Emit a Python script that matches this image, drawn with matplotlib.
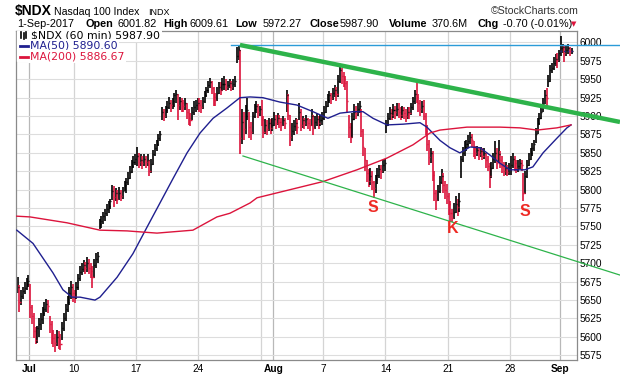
import matplotlib
matplotlib.use("Agg")
import matplotlib.pyplot as plt
from matplotlib.lines import Line2D
import numpy as np

# hourly bars, one list per trading day (Jun 30 .. Sep 1, Jul 3 is a half day)
days = ["Jun30", "Jul3", "Jul5", "Jul6", "Jul7",
        "Jul10", "Jul11", "Jul12", "Jul13", "Jul14",
        "Jul17", "Jul18", "Jul19", "Jul20", "Jul21",
        "Jul24", "Jul25", "Jul26", "Jul27", "Jul28",
        "Jul31", "Aug1", "Aug2", "Aug3", "Aug4",
        "Aug7", "Aug8", "Aug9", "Aug10", "Aug11",
        "Aug14", "Aug15", "Aug16", "Aug17", "Aug18",
        "Aug21", "Aug22", "Aug23", "Aug24", "Aug25",
        "Aug28", "Aug29", "Aug30", "Aug31", "Sep1"]

closes = [
    [5668, 5648, 5655, 5662, 5666, 5672, 5676],
    [5640, 5628, 5608, 5596],
    [5612, 5618, 5624, 5632, 5638, 5645, 5642],
    [5618, 5605, 5598, 5592, 5600, 5596, 5590],
    [5612, 5625, 5638, 5648, 5660, 5668, 5660],
    [5655, 5668, 5680, 5688, 5692, 5698, 5694],
    [5700, 5694, 5690, 5682, 5698, 5706, 5710],
    [5754, 5758, 5764, 5768, 5774, 5778, 5784],
    [5798, 5790, 5795, 5788, 5796, 5792, 5798],
    [5806, 5810, 5816, 5824, 5832, 5838, 5842],
    [5846, 5838, 5840, 5836, 5842, 5838, 5840],
    [5826, 5835, 5848, 5856, 5862, 5870, 5876],
    [5905, 5900, 5908, 5912, 5918, 5915, 5920],
    [5928, 5930, 5915, 5920, 5918, 5914, 5918],
    [5906, 5898, 5895, 5905, 5912, 5915, 5918],
    [5915, 5912, 5920, 5928, 5935, 5942, 5946],
    [5938, 5926, 5922, 5932, 5940, 5936, 5944],
    [5944, 5940, 5942, 5945, 5940, 5944, 5948],
    [5982, 5990, 5870, 5892, 5882, 5900, 5908],
    [5885, 5878, 5900, 5910, 5914, 5906, 5910],
    [5895, 5878, 5888, 5882, 5890, 5884, 5888],
    [5896, 5890, 5898, 5892, 5888, 5894, 5890],
    [5928, 5902, 5872, 5880, 5886, 5890, 5885],
    [5905, 5888, 5894, 5890, 5896, 5890, 5888],
    [5900, 5884, 5892, 5896, 5890, 5895, 5898],
    [5906, 5914, 5922, 5928, 5924, 5932, 5936],
    [5930, 5948, 5962, 5955, 5950, 5945, 5920],
    [5885, 5872, 5896, 5906, 5904, 5910, 5914],
    [5880, 5858, 5840, 5822, 5812, 5818, 5810],
    [5802, 5815, 5820, 5828, 5825, 5834, 5836],
    [5888, 5898, 5904, 5902, 5908, 5905, 5910],
    [5906, 5902, 5908, 5904, 5900, 5906, 5904],
    [5912, 5920, 5930, 5926, 5918, 5910, 5914],
    [5900, 5880, 5862, 5845, 5850, 5820, 5795],
    [5786, 5798, 5810, 5818, 5806, 5800, 5792],
    [5780, 5768, 5762, 5770, 5780, 5776, 5784],
    [5842, 5850, 5858, 5862, 5866, 5872, 5868],
    [5856, 5850, 5854, 5848, 5852, 5846, 5850],
    [5840, 5832, 5818, 5830, 5842, 5850, 5836],
    [5848, 5840, 5832, 5826, 5830, 5824, 5828],
    [5834, 5842, 5836, 5830, 5832, 5836, 5834],
    [5796, 5818, 5834, 5842, 5850, 5856, 5862],
    [5876, 5890, 5898, 5906, 5916, 5928, 5924],
    [5948, 5962, 5966, 5972, 5978, 5976, 5986],
    [5992, 5994, 5986, 5990, 5992, 5988, 5988],
]

highs = [
    [5681, 5670, 5664, 5668, 5674, 5680, 5684],
    [5672, 5644, 5632, 5614],
    [5615, 5625, 5632, 5640, 5648, 5652, 5650],
    [5628, 5622, 5610, 5604, 5610, 5608, 5604],
    [5620, 5632, 5645, 5656, 5668, 5676, 5672],
    [5664, 5674, 5686, 5696, 5700, 5704, 5702],
    [5708, 5706, 5700, 5696, 5706, 5714, 5716],
    [5760, 5764, 5770, 5774, 5780, 5784, 5788],
    [5806, 5805, 5802, 5800, 5804, 5800, 5804],
    [5812, 5816, 5824, 5832, 5840, 5846, 5848],
    [5858, 5850, 5848, 5846, 5848, 5846, 5848],
    [5840, 5842, 5854, 5862, 5868, 5876, 5880],
    [5912, 5910, 5914, 5920, 5926, 5922, 5925],
    [5932, 5936, 5930, 5926, 5924, 5922, 5924],
    [5918, 5910, 5904, 5912, 5920, 5922, 5925],
    [5924, 5922, 5926, 5934, 5940, 5948, 5952],
    [5948, 5940, 5932, 5940, 5946, 5946, 5952],
    [5955, 5950, 5948, 5950, 5948, 5950, 5954],
    [5994, 5997, 5990, 5910, 5905, 5915, 5925],
    [5905, 5892, 5906, 5916, 5920, 5916, 5914],
    [5922, 5900, 5896, 5894, 5898, 5896, 5898],
    [5906, 5902, 5904, 5902, 5898, 5900, 5898],
    [5936, 5930, 5902, 5890, 5894, 5898, 5896],
    [5918, 5910, 5900, 5898, 5902, 5898, 5896],
    [5910, 5902, 5900, 5904, 5900, 5902, 5906],
    [5914, 5920, 5930, 5934, 5932, 5938, 5942],
    [5940, 5956, 5968, 5966, 5960, 5955, 5948],
    [5902, 5890, 5904, 5916, 5914, 5918, 5920],
    [5910, 5882, 5856, 5840, 5828, 5830, 5826],
    [5812, 5820, 5830, 5834, 5834, 5840, 5842],
    [5895, 5904, 5912, 5910, 5916, 5914, 5918],
    [5918, 5912, 5914, 5912, 5910, 5912, 5912],
    [5918, 5926, 5936, 5947, 5930, 5922, 5920],
    [5922, 5904, 5888, 5868, 5856, 5852, 5826],
    [5800, 5806, 5818, 5828, 5822, 5812, 5808],
    [5795, 5784, 5774, 5782, 5792, 5788, 5795],
    [5846, 5858, 5866, 5868, 5874, 5878, 5876],
    [5866, 5860, 5860, 5858, 5858, 5856, 5856],
    [5850, 5846, 5836, 5838, 5850, 5866, 5856],
    [5868, 5852, 5846, 5838, 5838, 5834, 5836],
    [5846, 5850, 5846, 5840, 5840, 5842, 5840],
    [5822, 5826, 5840, 5850, 5856, 5864, 5868],
    [5884, 5898, 5904, 5914, 5924, 5935, 5938],
    [5956, 5970, 5972, 5980, 5984, 5986, 5990],
    [6009, 5998, 5996, 5996, 5998, 5994, 5992],
]

lows = [
    [5660, 5634, 5644, 5652, 5658, 5664, 5668],
    [5626, 5618, 5598, 5590],
    [5592, 5600, 5610, 5618, 5628, 5634, 5632],
    [5605, 5590, 5586, 5580, 5588, 5584, 5582],
    [5596, 5608, 5622, 5634, 5644, 5652, 5648],
    [5646, 5652, 5664, 5676, 5684, 5688, 5686],
    [5688, 5686, 5680, 5666, 5680, 5694, 5700],
    [5746, 5748, 5754, 5758, 5764, 5768, 5774],
    [5786, 5776, 5784, 5780, 5786, 5784, 5788],
    [5798, 5796, 5806, 5814, 5822, 5830, 5834],
    [5832, 5830, 5832, 5828, 5832, 5830, 5832],
    [5818, 5822, 5834, 5846, 5852, 5860, 5866],
    [5895, 5893, 5898, 5904, 5910, 5906, 5910],
    [5912, 5918, 5895, 5908, 5906, 5906, 5908],
    [5896, 5888, 5886, 5894, 5902, 5906, 5908],
    [5906, 5904, 5910, 5918, 5926, 5932, 5938],
    [5930, 5914, 5914, 5920, 5930, 5928, 5934],
    [5936, 5934, 5936, 5938, 5934, 5936, 5940],
    [5972, 5976, 5848, 5862, 5868, 5876, 5895],
    [5870, 5868, 5876, 5898, 5904, 5898, 5900],
    [5886, 5870, 5876, 5874, 5880, 5876, 5880],
    [5886, 5882, 5888, 5884, 5880, 5886, 5882],
    [5905, 5895, 5860, 5866, 5874, 5880, 5876],
    [5894, 5880, 5884, 5882, 5886, 5882, 5880],
    [5886, 5874, 5882, 5886, 5882, 5886, 5888],
    [5895, 5904, 5912, 5918, 5916, 5922, 5926],
    [5920, 5926, 5945, 5944, 5940, 5936, 5904],
    [5870, 5864, 5870, 5894, 5896, 5900, 5904],
    [5872, 5846, 5826, 5810, 5804, 5806, 5800],
    [5789, 5796, 5808, 5816, 5814, 5822, 5826],
    [5877, 5886, 5894, 5894, 5898, 5896, 5900],
    [5898, 5894, 5898, 5896, 5892, 5896, 5896],
    [5902, 5908, 5916, 5918, 5906, 5900, 5904],
    [5895, 5874, 5852, 5834, 5836, 5812, 5784],
    [5772, 5784, 5796, 5808, 5796, 5788, 5780],
    [5766, 5758, 5756, 5760, 5768, 5764, 5770],
    [5816, 5838, 5846, 5852, 5856, 5862, 5858],
    [5844, 5842, 5846, 5840, 5844, 5840, 5842],
    [5830, 5826, 5802, 5816, 5828, 5836, 5828],
    [5836, 5830, 5822, 5818, 5820, 5818, 5820],
    [5820, 5830, 5826, 5822, 5824, 5828, 5826],
    [5784, 5794, 5816, 5832, 5840, 5846, 5852],
    [5864, 5876, 5888, 5896, 5906, 5916, 5914],
    [5940, 5946, 5958, 5962, 5968, 5966, 5974],
    [5982, 5986, 5974, 5982, 5984, 5982, 5984],
]

# moving averages (bar index, value)
ma50_x = [0, 9.1, 14.7, 20.3, 25.9, 31, 35.5, 43.9, 46.7, 56.3, 65.2, 73.1, 79.3, 87.7,
          95.6, 102.9, 110.2, 118, 125.3, 131, 138.2, 147.8, 157.3, 166.3, 174.7, 181.5,
          188.8, 194.4, 200, 207.9, 216.9, 226.4, 230.3, 237.6, 243.2, 248.8, 254.5,
          260.1, 265.7, 271.3, 276.9, 285.3, 289.8, 295.5, 303.3, 308.9, 311.2]
ma50_y = [5745, 5727, 5707, 5687, 5664, 5654, 5654, 5650, 5654, 5681, 5713, 5749, 5777, 5815,
          5850, 5877, 5897, 5911, 5925, 5926, 5925, 5919, 5915, 5906, 5897, 5904,
          5906, 5906, 5897, 5888, 5889, 5891, 5885, 5867, 5857, 5850, 5858,
          5857, 5847, 5836, 5827, 5827, 5831, 5850, 5870, 5884, 5888]
ma200_x = [0, 7.4, 28.2, 46.7, 61.9, 78.7, 98.9, 112.4, 119.7, 131, 134.9, 153.4, 171.9,
           191, 207.9, 222.5, 232, 237.6, 252.8, 271.3, 282.5, 292.1, 303.3, 311.2]
ma200_y = [5764, 5763, 5755, 5745, 5744, 5741, 5745, 5763, 5768, 5782, 5789, 5800, 5811,
           5827, 5843, 5861, 5877, 5881, 5885, 5885, 5884, 5881, 5884, 5888]

# hand-drawn annotations (bar index, price)
upper_trend = ([125.3, 338.7], [5996.6, 5892])
lower_trend = ([127.0, 338.7], [5845.8, 5684])
top_line = ([120.3, 338.7], [5996.6, 5996.6])
marks = [("S", 200, 5776), ("K", 245, 5747), ("S", 285.4, 5771)]

grid_days = ["Jul3", "Jul10", "Jul17", "Jul24", "Jul31", "Aug1", "Aug7", "Aug14",
             "Aug21", "Aug28", "Sep1"]
grid_labels = {"Jul3": "Jul", "Jul10": "10", "Jul17": "17", "Jul24": "24", "Aug1": "Aug",
               "Aug7": "7", "Aug14": "14", "Aug21": "21", "Aug28": "28", "Sep1": "Sep"}

RED = "#dc143c"
NAVY = "#1f1f8f"
GREEN = "#2db34a"

c = np.concatenate([np.array(d, float) for d in closes])
h = np.concatenate([np.array(d, float) for d in highs])
l = np.concatenate([np.array(d, float) for d in lows])
n = len(c)
starts = np.cumsum([0] + [len(d) for d in closes[:-1]])
day_start = dict(zip(days, starts))

prev = np.r_[c[0], c[:-1]]
cols = np.where(c >= prev, "black", RED)
x = np.arange(n) + 0.5

W, H = 620, 376
fig = plt.figure(figsize=(W / 100, H / 100), dpi=100)
ax = fig.add_axes([16 / W, 16 / H, 560.7 / W, 329 / H])
ax.set_xlim(-0.45, 314.4)
ax.set_ylim(5568.6, 6015.6)

yt = np.arange(5575, 6001, 25)
ax.set_yticks(yt)
ax.yaxis.tick_right()
ax.grid(axis="y", color="#dddddd", lw=0.8, zorder=0)
for d in grid_days:
    month = d in ("Jul3", "Aug1", "Sep1")
    ax.axvline(day_start[d], color="#b8b8b8" if month else "#d4d4d4", lw=0.9, zorder=0)
ax.set_xticks([day_start[d] for d in grid_labels])
ax.set_xticklabels(list(grid_labels.values()))
for lab, d in zip(ax.get_xticklabels(), grid_labels):
    if d in ("Jul3", "Aug1", "Sep1"):
        lab.set_fontweight("bold")
ax.tick_params(axis="both", length=0, labelsize=7.3)
ax.tick_params(axis="y", pad=2)
ax.tick_params(axis="x", pad=3)
for lab in ax.get_xticklabels() + ax.get_yticklabels():
    lab.set_family("Liberation Sans")
for s in ax.spines.values():
    s.set_color("#8a8a8a")
    s.set_linewidth(0.9)

ax.vlines(x, l, h, colors=cols, lw=1.2, zorder=2)
ax.hlines(c, x, x + 0.6, colors=cols, lw=1.0, zorder=2)

ax.plot(ma50_x, ma50_y, color=NAVY, lw=1.0, zorder=3)
ax.plot(ma200_x, ma200_y, color=RED, lw=1.0, zorder=3)
ax.hlines(c[-1], n - 7, n + 1, colors=NAVY, linestyles=":", lw=1, zorder=3)

ax.plot(*top_line, color="#2b9bd8", lw=1.0, clip_on=False, zorder=4)
ax.plot(*upper_trend, color=GREEN, lw=3.2, clip_on=False, solid_capstyle="butt", zorder=4)
ax.plot(*lower_trend, color=GREEN, lw=0.9, clip_on=False, zorder=4)
for t, mx, my in marks:
    ax.text(mx, my, t, color="#ee2a24", fontsize=11.5, fontweight="bold",
            family="Liberation Sans", ha="center", va="center", zorder=5)


def ftext(px, py, s, **kw):
    kw.setdefault("family", "Liberation Sans")
    return fig.text(px / W, 1 - py / H, s, **kw)


# header
ftext(15, 15, "$NDX", fontsize=10, fontweight="bold", va="baseline")
ftext(54, 15, "Nasdaq 100 Index", fontsize=7.6, va="baseline")
ftext(148, 15, "INDX", fontsize=6.5, va="baseline")
ftext(579, 14, "\u00a9StockCharts.com", fontsize=7.6, va="baseline", ha="right", color="#333333")
line2 = [(16.7, "1-Sep-2017", "normal"), (85.5, "Open", "bold"), (118, "6001.82", "normal"),
         (163, "High", "bold"), (189.6, "6009.61", "normal"), (235.7, "Low", "bold"),
         (263, "5972.27", "normal"), (309, "Close", "bold"), (340, "5987.90", "normal"),
         (388.7, "Volume", "bold"), (432, "370.6M", "normal"), (477, "Chg", "bold"),
         (503, "-0.70 (-0.01%)", "normal")]
for px, s, wt in line2:
    ftext(px, 27, s, fontsize=7.8, fontweight=wt, va="baseline")
ftext(571, 26, "\u25bc", fontsize=5, va="baseline", color=RED, family="DejaVu Sans")

# legend
bb = dict(facecolor="white", edgecolor="none", pad=1.2)
ftext(31, 35.5, "$NDX (60 min) 5987.90", fontsize=7.8, va="center", family="DejaVu Sans",
      bbox=bb, zorder=6)
ftext(30, 46, "MA(50) 5890.60", fontsize=7.8, va="center", family="DejaVu Sans",
      color=NAVY, bbox=bb, zorder=6)
ftext(30, 56.7, "MA(200) 5886.67", fontsize=7.8, va="center", family="DejaVu Sans",
      color=RED, bbox=bb, zorder=6)
fig.patches.append(plt.Rectangle((17 / W, 1 - 61 / H), 13 / W, 30 / H,
                                 transform=fig.transFigure, color="white", zorder=5))
for y0, col in ((46, NAVY), (56.7, RED)):
    fig.add_artist(Line2D([20 / W, 28 / W], [1 - y0 / H] * 2, color=col, lw=2, zorder=7))
for px, y1, y2 in ((21, 32, 38), (23.5, 33, 39), (26, 31.5, 37.5)):
    fig.add_artist(Line2D([px / W] * 2, [1 - y1 / H, 1 - y2 / H], color="black", lw=1.2, zorder=7))

fig.savefig("out.png", dpi=100)
